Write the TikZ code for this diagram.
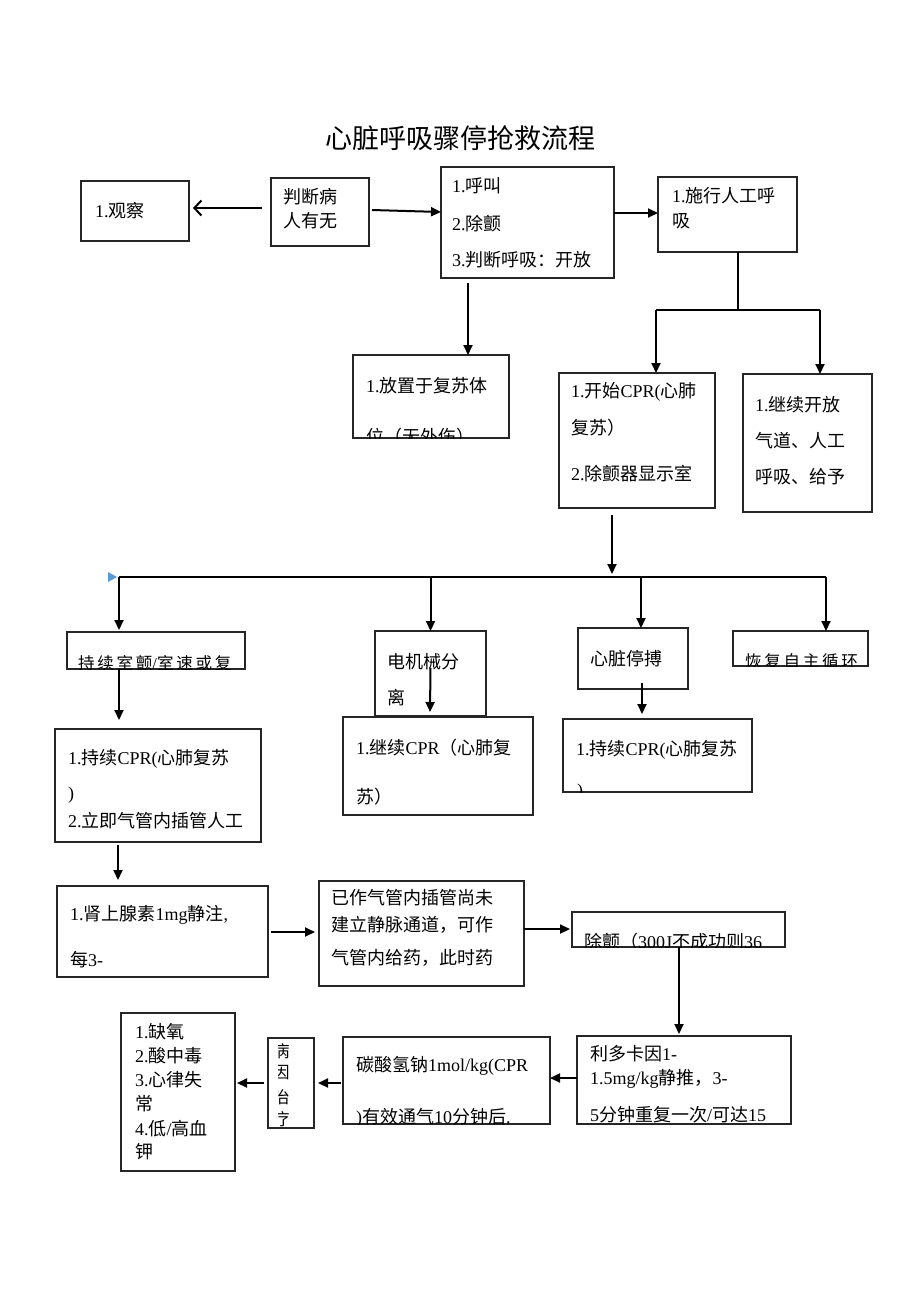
\documentclass[tikz,border=0pt]{standalone}
\usepackage{fontspec}
\setmainfont{Liberation Serif}
\newfontfamily\zhf{Noto Sans CJK SC}
\newcommand\zh[1]{{\zhf #1}}
\usetikzlibrary{arrows.meta,calc}
\definecolor{markblue}{RGB}{91,155,213}
\tikzset{
  box/.style={draw=black!85, line width=1.2pt, fill=white, inner sep=0pt, outer sep=0pt},
  t/.style={anchor=west, inner sep=0pt, font=\fontsize{18}{18}\selectfont},
  ts/.style={anchor=west, inner sep=0pt, font=\fontsize{16.5}{16.5}\selectfont},
  conn/.style={line width=2pt},
  arr/.style={line width=2pt, -{Triangle[length=10pt,width=9pt]}},
  arrO/.style={line width=2pt, -{Straight Barb[length=7pt,width=15pt,line width=2pt]}},
}
\newcommand\boxat[6]{\node[box, minimum width=#4pt, minimum height=#5pt] (#1) at (#2,#3) {};}
\begin{document}
\begin{tikzpicture}[x=1pt,y=-1pt]
\useasboundingbox[fill=white] (0,0) rectangle (920,1302);

% title
\node[inner sep=0pt, font=\fontsize{27}{27}\selectfont\zhf] (title) at (460,138) {心脏呼吸骤停抢救流程};

% boxes
\boxat{A}{135}{211}{108}{60}{}
\boxat{B}{320}{212}{98}{68}{}
\boxat{C}{527.5}{222.5}{173}{111}{}
\boxat{D}{727.5}{214.5}{139}{75}{}
\boxat{G}{431}{396.5}{156}{83}{}
\boxat{E}{637}{440.5}{156}{135}{}
\boxat{F}{807.5}{443}{129}{138}{}
\boxat{H}{156}{650.5}{178}{37}{}
\boxat{I}{430.5}{673.5}{111}{85}{}
\boxat{J}{633}{658.5}{110}{61}{}
\boxat{K}{800.5}{648.5}{135}{35}{}
\boxat{L}{158}{785.5}{206}{113}{}
\boxat{M}{438}{766}{190}{98}{}
\boxat{N}{657.5}{755.5}{189}{73}{}
\boxat{O}{162.5}{931.5}{211}{91}{}
\boxat{P}{421.5}{933.5}{205}{105}{}
\boxat{Q}{678.5}{929.5}{213}{35}{}
\boxat{R}{684}{1080}{214}{88}{}
\boxat{S}{446.5}{1080.5}{207}{87}{}
\boxat{T}{291}{1083}{46}{90}{}
\boxat{U}{178}{1092}{114}{158}{}

% texts
\node[t] (A1) at (95,211) {1.\zh{观察}};
\node[t] (B1) at (283,197) {\zh{判断病}};
\node[t] (B2) at (283,221) {\zh{人有无}};
\node[t] (C1) at (452,186) {1.\zh{呼叫}};
\node[t] (C2) at (452,224) {2.\zh{除颤}};
\node[t] (C3) at (452,260) {3.\zh{判断呼吸：开放}};
\node[t] (D1) at (672,196) {1.\zh{施行人工呼}};
\node[t] (D2) at (672,221) {\zh{吸}};
\node[t] (G1) at (366,386) {1.\zh{放置于复苏体}};
\begin{scope}
\clip (G.south west) rectangle (G.north east);
\node[t] (G2) at (366,437) {\zh{位（无外伤）}};
\end{scope}
\node[t] (E1) at (571,392) {1.\zh{开始}CPR(\zh{心肺}};
\node[t] (E2) at (571,428) {\zh{复苏）}};
\node[t] (E3) at (571,474) {2.\zh{除颤器显示室}};
\node[t] (F1) at (755,405) {1.\zh{继续开放}};
\node[t] (F2) at (755,441) {\zh{气道、人工}};
\node[t] (F3) at (755,477) {\zh{呼吸、给予}};
\begin{scope}
\clip (H.south west) rectangle (H.north east);
\node[ts] (H1) at (78,663) {\zh{持\,续\,室\,颤}/\zh{室\,速\,或\,复}};
\end{scope}
\node[t] (I1) at (387,662) {\zh{电机械分}};
\node[t] (I2) at (387,698) {\zh{离}};
\node[t] (J1) at (590,659) {\zh{心脏停搏}};
\begin{scope}
\clip (K.south west) rectangle (K.north east);
\node[ts] (K1) at (745,661) {\zh{恢\,复\,自\,主\,循\,环}};
\end{scope}
\node[t] (L1) at (68,759) {1.\zh{持续}CPR(\zh{心肺复苏}};
\node[t] (L2) at (68,795) {)};
\node[t] (L3) at (68,821) {2.\zh{立即气管内插管人工}};
\node[t] (M1) at (356,748) {1.\zh{继续}CPR\zh{（心肺复}};
\node[t] (M2) at (356,797) {\zh{苏）}};
\node[t] (N1) at (576,750) {1.\zh{持续}CPR(\zh{心肺复苏}};
\begin{scope}
\clip (N.south west) rectangle (N.north east);
\node[t] (N2) at (577,792) {)};
\end{scope}
\node[t] (O1) at (70,915) {1.\zh{肾上腺素}1mg\zh{静注},};
\node[t] (O2) at (70,960) {\zh{每}3-};
\node[t] (P1) at (331,898) {\zh{已作气管内插管尚未}};
\node[t] (P2) at (331,925) {\zh{建立静脉通道，可作}};
\node[t] (P3) at (331,958) {\zh{气管内给药，此时药}};
\begin{scope}
\clip (Q.south west) rectangle (Q.north east);
\node[t] (Q1) at (584,942) {\zh{除颤（}300J\zh{不成功则}36};
\end{scope}
\node[t] (R1) at (590,1054) {\zh{利多卡因}1-};
\node[t] (R2) at (590,1079) {1.5mg/kg\zh{静推，}3-};
\node[t] (R3) at (590,1115) {5\zh{分钟重复一次}/\zh{可达}15};
\node[t] (S1) at (356,1066) {\zh{碳酸氢钠}1mol/kg(CPR};
\begin{scope}
\clip (S.south west) rectangle (S.north east);
\node[t] (S2) at (356,1118) {)\zh{有效通气}10\zh{分钟后}.};
\end{scope}
\begin{scope}
\clip ($(T.south west)+(10,0)$) rectangle (T.north east);
\node[ts] (T1) at (273,1051) {\zh{病}};
\node[ts] (T2) at (273,1073) {\zh{因}};
\node[ts] (T3) at (273,1097) {\zh{治}};
\node[ts] (T4) at (273,1119) {\zh{疗}};
\end{scope}
\node[t] (U1) at (135,1032) {1.\zh{缺氧}};
\node[t] (U2) at (135,1056) {2.\zh{酸中毒}};
\node[t] (U3) at (135,1080) {3.\zh{心律失}};
\node[t] (U4) at (135,1104) {\zh{常}};
\node[t] (U5) at (135,1129) {4.\zh{低}/\zh{高血}};
\node[t] (U6) at (135,1152) {\zh{钾}};

% connectors
\draw[arrO] ($(B.west)+(-9,-4)$) -- ($(A.east)+(4,-3)$);
\draw[arr] ($(B.east)+(3,-2)$) -- ($(C.west)+(0,-10.5)$);
\draw[arr] ($(C.east)+(0,-9.5)$) -- ($(D.west)+(0,-1.5)$);
\coordinate (split1) at (738,310);
\coordinate (splitL) at (656,310);
\coordinate (splitR) at (820,310);
\draw[conn] ($(D.south west)+(80,0)$) -- (split1);
\draw[conn] (splitL) -- (splitR);
\draw[arr] (splitL) -- (splitL |- E.north);
\draw[arr] (splitR) -- (splitR |- F.north);
\draw[arr] ($(C.south west)+(27,5)$) -- ($(G.north west)+(115,0)$);
\coordinate (busE) at (612,574);
\draw[arr] ($(E.south west)+(53,7)$) -- (busE);
\coordinate (busL) at (119,577);
\coordinate (busR) at (826,577);
\draw[conn] (busL) -- (busR);
\fill[markblue] (108,572) -- (117,577) -- (108,582) -- cycle;
\draw[arr] (busL) -- ($(H.north west)+(52,-2)$);
\draw[arr] (I.north |- busL) -- (I.north);
\coordinate (jx) at ($(J.north west)+(63,0)$);
\draw[arr] (jx |- busL) -- (jx);
\draw[arr] (busR) -- (busR |- K.north);
\draw[arr] ($(H.south west)+(52,0)$) -- ($(L.north west)+(64,-9)$);
\draw[arr] ($(I.north)+(0,37)$) -- ($(M.north)+(-8,-5)$);
\draw[arr] ($(J.south west)+(64,-6)$) -- ($(N.north west)+(79,-5)$);
\draw[arr] ($(L.south west)+(63,3)$) -- ($(O.north west)+(61,-6)$);
\draw[arr] ($(O.east)+(3,0.5)$) -- ($(P.west)+(-4,-1.5)$);
\draw[arr] ($(P.east)+(0,-4.5)$) -- ($(Q.west)+(-2,-0.5)$);
\draw[arr] ($(Q.south)+(0.5,0)$) -- ($(R.north)+(-5,-2)$);
\draw[arr] ($(R.west)+(0,-2)$) -- ($(S.east)+(0,-2.5)$);
\draw[arr] ($(S.west)+(-2,2.5)$) -- ($(T.east)+(4,0)$);
\draw[arr] ($(T.west)+(-4,0)$) -- ($(U.east)+(2,-9)$);
\end{tikzpicture}
\end{document}
